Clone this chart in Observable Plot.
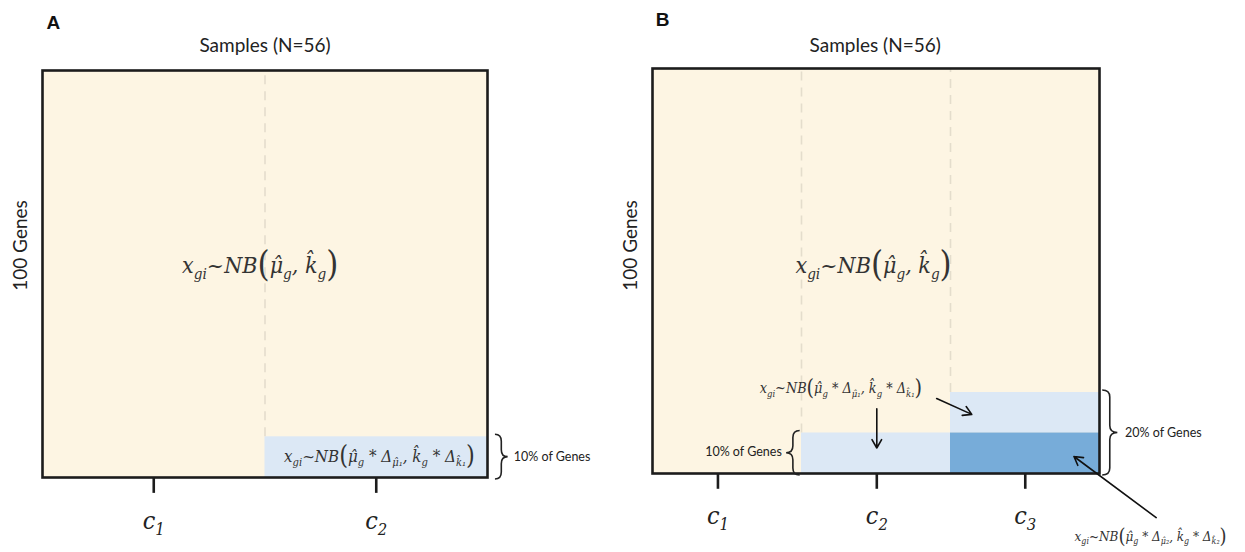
<!DOCTYPE html>
<html><head><meta charset="utf-8">
<script src="https://cdn.jsdelivr.net/npm/d3@7"></script>
<script src="https://cdn.jsdelivr.net/npm/@observablehq/plot@0.6"></script>
<style>
body{margin:0;background:#fff;}
#wrap{position:relative;width:1245px;height:552px;overflow:hidden;background:#fff;}
#wrap svg{position:absolute;top:0;overflow:visible;}
.math{font-stretch:condensed;}
</style></head><body><div id="wrap"></div>
<script>
// ---- data ----
const SAMPLES = 56;
const GENES = 100;
const panelLetters = ["A", "B"];
const sampleTitle = "Samples (N=56)";
const geneTitle = "100 Genes";
const columnsA = ["c_{1}", "c_{2}"];
const columnsB = ["c_{1}", "c_{2}", "c_{3}"];
const tickAtA = [14, 42];
const tickAtB = [8.2, 28.1, 46.7];
const blocksA = [{col: 1, lo: 0, hi: 10, shade: "light"}];
const blocksB = [
  {col: 1, lo: 0, hi: 10, shade: "light"},
  {col: 2, lo: 10, hi: 20, shade: "light"},
  {col: 2, lo: 0, hi: 10, shade: "dark"}
];
const baseModel = "x_{gi}~NB(μ̂_{g}, k̂_{g})";
const shiftModel1 = "x_{gi}~NB(μ̂_{g} * Δ_{μ̂₁}, k̂_{g} * Δ_{k̂₁})";
const shiftModel2 = "x_{gi}~NB(μ̂_{g} * Δ_{μ̂₂}, k̂_{g} * Δ_{k̂₂})";
const shareLabels = ["10% of Genes", "20% of Genes"];
const arrowsB = [
  {x1: 35.6, y1: 18.5, x2: 40.0, y2: 14.6},
  {x1: 28.1, y1: 16.0, x2: 28.1, y2: 6.3},
  {x1: 63.1, y1: -10.9, x2: 52.8, y2: 4.2}
];

// ---- styles ----
const BEIGE = "#fdf5e3", FRAME = "#1c1c1c", DASH = "#e4ddcc";
const MATH = "DejaVu Serif, Liberation Serif, serif";
const SANS = "Lato, Open Sans, sans-serif";

function panel(cfg) {
  const n = cfg.columns.length, w = SAMPLES / n;
  const bg = [{x1: 0, x2: SAMPLES, y1: 0, y2: GENES}];
  const blocks = cfg.blocks.map(b => ({x1: b.col * w, x2: (b.col + 1) * w, y1: b.lo, y2: b.hi, shade: b.shade}));
  const bounds = d3.range(1, n).map(i => ({x: i * w, y1: d3.max(cfg.blocks.filter(b => b.col === i), b => b.hi) ?? 0, y2: GENES}));
  const plot = Plot.plot({
    width: cfg.width, height: 552,
    marginLeft: 42, marginRight: cfg.width - 42 - cfg.inner,
    marginTop: cfg.marginTop, marginBottom: cfg.marginBottom,
    x: {domain: [0, SAMPLES], axis: null},
    y: {domain: [0, GENES], axis: null},
    color: {domain: ["light", "dark"], range: ["#dce8f5", "#77acd9"]},
    marks: [
      Plot.rect(bg, {x1: "x1", x2: "x2", y1: "y1", y2: "y2", fill: BEIGE}),
      Plot.rect(blocks, {x1: "x1", x2: "x2", y1: "y1", y2: "y2", fill: "shade"}),
      Plot.ruleX(bounds, {x: "x", y1: "y1", y2: "y2", stroke: DASH, strokeWidth: 1.6, strokeDasharray: "9,7"}),
      Plot.frame({stroke: FRAME, strokeWidth: 2.6}),
      Plot.ruleX(cfg.ticks, {x: d => d, y1: 0, y2: -3.9, stroke: FRAME, strokeWidth: 2.6}),
      Plot.text(cfg.ticks, {x: d => d, y: cfg.tickLabelY, text: (d, i) => cfg.columns[i], fontFamily: MATH, fontStyle: "italic", fontSize: 25, fill: "#222", className: "math"}),
      Plot.text([cfg.letter], {x: cfg.letterPos[0], y: cfg.letterPos[1], text: d => d, textAnchor: "start", fontFamily: "Liberation Sans, Arial, sans-serif", fontWeight: "bold", fontSize: 19, fill: "#111"}),
      Plot.text([sampleTitle], {x: cfg.titlePos[0], y: cfg.titlePos[1], text: d => d, fontFamily: SANS, fontSize: 19, fill: "#222"}),
      Plot.text([geneTitle], {x: cfg.genePos[0], y: cfg.genePos[1], text: d => d, rotate: -90, fontFamily: SANS, fontSize: 19, fill: "#222"}),
      Plot.text([baseModel], {x: cfg.basePos[0], y: cfg.basePos[1], text: d => d, fontFamily: MATH, fontStyle: "italic", fontSize: 23, fill: "#333", className: "math"}),
      ...cfg.extra
    ]
  });
  plot.style.left = cfg.left + "px";
  document.getElementById("wrap").appendChild(plot);
  // braces drawn with the plot's own scales
  const sx = plot.scale("x"), sy = plot.scale("y");
  const svg = d3.select(plot);
  for (const b of cfg.braces) {
    const x0 = sx.apply(b.base), xt = sx.apply(b.tip);
    const yt = sy.apply(b.hi), yb = sy.apply(b.lo), ym = (yt + yb) / 2;
    const xm = (x0 + xt) / 2, r = Math.min(7, (yb - yt) / 4);
    const p = d3.path();
    p.moveTo(x0, yt);
    p.quadraticCurveTo(xm, yt, xm, yt + r);
    p.lineTo(xm, ym - r);
    p.quadraticCurveTo(xm, ym, xt, ym);
    p.quadraticCurveTo(xm, ym, xm, ym + r);
    p.lineTo(xm, yb - r);
    p.quadraticCurveTo(xm, yb, x0, yb);
    svg.append("path").attr("d", p.toString()).attr("fill", "none").attr("stroke", "#222").attr("stroke-width", 1.6);
  }
  mathify(plot);
  return plot;
}

// turn x_{sub} markup into real subscripts, enlarge parentheses
function mathify(root) {
  root.querySelectorAll("text").forEach(el => {
    const s = el.textContent;
    if (!s.includes("_{")) return;
    const fs = parseFloat(getComputedStyle(el).fontSize) || 16;
    el.style.fontStretch = "condensed";
    const re = /_\{([^}]*)\}|([()])|([^_()]+)/g;
    const parts = [];
    let m;
    while ((m = re.exec(s))) {
      if (m[1] !== undefined) parts.push({t: m[1], size: 0.66, off: 0.26});
      else if (m[2]) parts.push({t: m[2], size: 1.5, off: 0.14, upright: true});
      else parts.push({t: m[3], size: 1, off: 0});
    }
    el.textContent = "";
    let cur = 0;
    for (const p of parts) {
      const ts = document.createElementNS("http://www.w3.org/2000/svg", "tspan");
      ts.setAttribute("font-size", (fs * p.size).toFixed(2));
      if (p.upright) ts.setAttribute("font-style", "normal");
      const off = p.off * fs;
      ts.setAttribute("dy", (off - cur).toFixed(2));
      cur = off;
      ts.textContent = p.t;
      el.appendChild(ts);
    }
  });
}

panel({
  left: 0, width: 610, inner: 445, marginTop: 70, marginBottom: 75,
  columns: columnsA, ticks: tickAtA, blocks: blocksA, tickLabelY: -10.6,
  letter: panelLetters[0], letterPos: [0.5, 111.8], titlePos: [28, 106.1], genePos: [-2.77, 57], basePos: [27.4, 52.1],
  braces: [{base: 57.0, tip: 58.6, lo: -0.5, hi: 10.5}],
  extra: [
    Plot.text([shiftModel1], {x: 42.4, y: 5.2, text: d => d, fontFamily: MATH, fontStyle: "italic", fontSize: 16.8, fill: "#333"}),
    Plot.text([shareLabels[0]], {x: 59.3, y: 5, text: d => d, textAnchor: "start", fontFamily: SANS, fontSize: 12.5, fill: "#222"})
  ]
});

panel({
  left: 610, width: 635, inner: 447, marginTop: 68, marginBottom: 79,
  columns: columnsB, ticks: tickAtB, blocks: blocksB, tickLabelY: -10.4,
  letter: panelLetters[1], letterPos: [0.4, 111.9], titlePos: [27.9, 105.7], genePos: [-2.76, 56.3], basePos: [27.7, 51.4],
  braces: [{base: 18.5, tip: 16.8, lo: -0.5, hi: 10.5}, {base: 56.4, tip: 58.3, lo: -0.5, hi: 20.5}],
  extra: [
    Plot.text([shiftModel1], {x: 23.6, y: 21, text: d => d, fontFamily: MATH, fontStyle: "italic", fontSize: 14.3, fill: "#333"}),
    Plot.text([shiftModel2], {x: 62.4, y: -15.6, text: d => d, fontFamily: MATH, fontStyle: "italic", fontSize: 13.4, fill: "#333"}),
    Plot.text([shareLabels[0]], {x: 16.2, y: 5.2, text: d => d, textAnchor: "end", fontFamily: SANS, fontSize: 12.5, fill: "#222"}),
    Plot.text([shareLabels[1]], {x: 59.2, y: 10.1, text: d => d, textAnchor: "start", fontFamily: SANS, fontSize: 12.5, fill: "#222"}),
    Plot.arrow(arrowsB, {x1: "x1", y1: "y1", x2: "x2", y2: "y2", stroke: "#111", strokeWidth: 1.6, headLength: 9})
  ]
});
</script></body></html>
